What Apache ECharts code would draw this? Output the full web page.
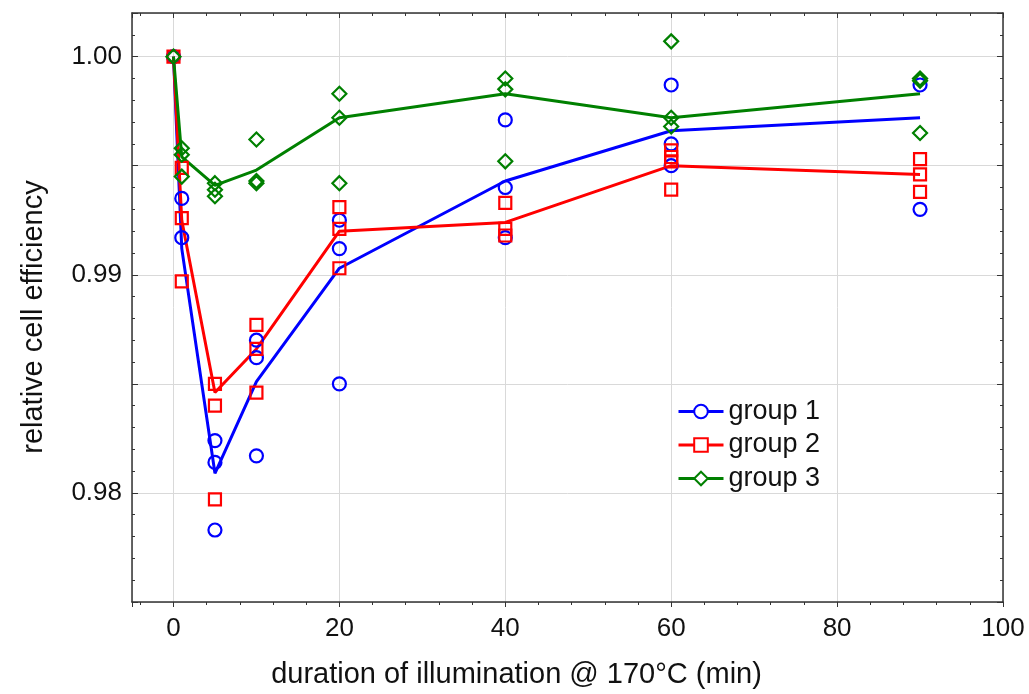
<!DOCTYPE html>
<html><head><meta charset="utf-8">
<script src="https://cdn.jsdelivr.net/npm/echarts@6/dist/echarts.min.js"></script>
<style>html,body{margin:0;padding:0;background:#fff}#c{width:1029px;height:694px}</style>
</head><body><div id="c"></div>
<script>
// durations (min)
const durations = [0, 1, 5, 10, 20, 40, 60, 90];
// individual measurements per duration
const group1Points = [[1.0], [0.9935, 0.9917], [0.9824, 0.9814, 0.9783], [0.9870, 0.9862, 0.9817], [0.9925, 0.9912, 0.9850], [0.9971, 0.9940, 0.9917], [0.9987, 0.9960, 0.9950], [0.9987, 0.9930]];
const group2Points = [[1.0], [0.9949, 0.9926, 0.9897], [0.9850, 0.9840, 0.9797], [0.9877, 0.9866, 0.9846], [0.9931, 0.9921, 0.9903], [0.9933, 0.9921, 0.9918], [0.9957, 0.9954, 0.9952, 0.9939], [0.9953, 0.9946, 0.9938]];
const group3Points = [[1.0], [0.9958, 0.9955, 0.9945], [0.9942, 0.9939, 0.9936], [0.9962, 0.9943, 0.9942], [0.9983, 0.9972, 0.9942], [0.9990, 0.9985, 0.9952], [1.0007, 0.9972, 0.9968], [0.9990, 0.9989, 0.9965]];
// fitted lines
const group1Line = [1.0, 0.9912, 0.9809, 0.9851, 0.9903, 0.9943, 0.9966, 0.9972];
const group2Line = [1.0, 0.9925, 0.9846, 0.9866, 0.9920, 0.9924, 0.9950, 0.9946];
const group3Line = [1.0, 0.9954, 0.9941, 0.9948, 0.9972, 0.9983, 0.9972, 0.9983];
const groupNames = ['group 1', 'group 2', 'group 3'];
const xTickLabels = ['0', '20', '40', '60', '80', '100'];
const yTickLabels = ['0.98', '0.99', '1.00'];

const FONT = 'Liberation Sans, Arial, sans-serif';
const groups = [
  {name: groupNames[0], color: '#0000ff', symbol: 'circle', size: 13, points: group1Points, line: group1Line},
  {name: groupNames[1], color: '#ff0000', symbol: 'rect', size: 12, points: group2Points, line: group2Line},
  {name: groupNames[2], color: '#008000', symbol: 'diamond', size: 14, points: group3Points, line: group3Line}
];

const series = [];
groups.forEach(g => {
  series.push({
    type: 'line', name: g.name, silent: true, z: 2,
    data: durations.map((x, i) => [x, g.line[i]]),
    symbol: 'empty' + g.symbol.charAt(0).toUpperCase() + g.symbol.slice(1),
    showSymbol: false,
    lineStyle: {color: g.color, width: 3},
    itemStyle: {color: g.color}
  });
});
groups.forEach(g => {
  const pts = [];
  durations.forEach((x, i) => g.points[i].forEach(v => pts.push([x, v])));
  series.push({
    type: 'scatter', name: g.name, z: 3, silent: true,
    data: pts, symbol: g.symbol, symbolSize: g.size,
    itemStyle: {color: 'rgba(0,0,0,0)', borderColor: g.color, borderWidth: 2.2, opacity: 1}
  });
});

const axisLineStyle = {color: '#333', width: 1.5};
const gridLine = {show: true, lineStyle: {color: '#d9d9d9', width: 1}};

const option = {
  animation: false,
  backgroundColor: '#fff',
  grid: {left: 132, right: 26, top: 13, bottom: 86, containLabel: false},
  legend: {
    orient: 'vertical', left: 672, top: 393,
    itemWidth: 45, itemHeight: 17, itemGap: 6.5,
    lineStyle: {width: 3},
    textStyle: {fontSize: 27, color: '#111', fontFamily: FONT, lineHeight: 27},
    data: groupNames
  },
  xAxis: [{
    type: 'value', position: 'bottom', min: -5, max: 100, splitNumber: 5,
    axisLine: {show: true, onZero: false, lineStyle: axisLineStyle},
    axisTick: {show: true, inside: false, length: 5, lineStyle: {color: '#333'}},
    minorTick: {show: true, splitNumber: 5, length: 3, lineStyle: {color: '#333'}},
    axisLabel: {margin: 14, fontSize: 26, color: '#111', fontFamily: FONT,
      showMinLabel: false,
      formatter: v => xTickLabels.includes(String(v)) ? String(v) : ''},
    splitLine: gridLine,
    name: 'duration of illumination @ 170°C (min)', nameLocation: 'middle', nameGap: 58,
    nameTextStyle: {fontSize: 29, color: '#111', fontFamily: FONT, padding: [0, 102, 0, 0]}
  }, {
    type: 'value', position: 'top', min: -5, max: 100, splitNumber: 5,
    axisLine: {show: true, onZero: false, lineStyle: axisLineStyle},
    axisTick: {show: true, inside: true, length: 5, lineStyle: {color: '#333'}},
    minorTick: {show: true, splitNumber: 5, length: 3, lineStyle: {color: '#333'}},
    axisLabel: {show: false}, splitLine: {show: false}
  }],
  yAxis: [{
    type: 'value', position: 'left', min: 0.975, max: 1.002, interval: 0.005,
    axisLine: {show: true, onZero: false, lineStyle: axisLineStyle},
    axisTick: {show: true, inside: true, length: 6, lineStyle: {color: '#333'}},
    minorTick: {show: true, splitNumber: 5, length: 3, lineStyle: {color: '#333'}},
    axisLabel: {margin: 10, fontSize: 26, color: '#111', fontFamily: FONT, showMaxLabel: false,
      formatter: v => { const s = v.toFixed(2); return (yTickLabels.includes(s) && Math.abs(v - parseFloat(s)) < 1e-9) ? s : ''; }},
    splitLine: gridLine,
    name: 'relative cell efficiency', nameLocation: 'middle', nameGap: 84, nameRotate: 90,
    nameTextStyle: {fontSize: 29, color: '#111', fontFamily: FONT, padding: [0, 19, 0, 0]}
  }, {
    type: 'value', position: 'right', min: 0.975, max: 1.002, interval: 0.005,
    axisLine: {show: true, onZero: false, lineStyle: axisLineStyle},
    axisTick: {show: true, inside: true, length: 6, lineStyle: {color: '#333'}},
    minorTick: {show: true, splitNumber: 5, length: 3, lineStyle: {color: '#333'}},
    axisLabel: {show: false}, splitLine: {show: false}
  }],
  series: series
};
const chart = echarts.init(document.getElementById('c'), null, {renderer: 'canvas'});
chart.setOption(option);
</script>
</body></html>
